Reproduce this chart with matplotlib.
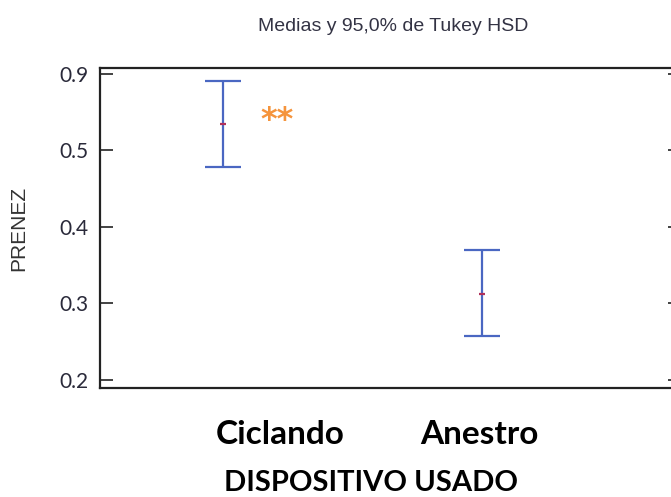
import matplotlib.pyplot as plt
import numpy as np

# medias e intervalos de Tukey HSD (95%)
categorias = ["Ciclando", "Anestro"]
medias = [0.5346, 0.3124]
limite_inf = [0.4784, 0.2575]
limite_sup = [0.5910, 0.3700]

y_ticks = [0.2, 0.3, 0.4, 0.5, 0.6]
y_labels = ["0.2", "0.3", "0.4", "0.5", "0.9"]

azul = "#4a67c2"
rojo = "#b0305a"

fig = plt.figure(figsize=(6.71, 4.97), dpi=100)
ax = fig.add_axes([0.149, 0.2193, 0.8525, 0.6439])

x = np.arange(len(categorias))
medias = np.array(medias)
err = [medias - np.array(limite_inf), np.array(limite_sup) - medias]

ax.errorbar(x, medias, yerr=err, fmt="none", ecolor=azul, elinewidth=1.6,
            capsize=13, capthick=1.6)
# marca de la media
ax.plot(x, medias, linestyle="none", marker="_", markersize=5,
        markeredgewidth=1.6, color=rojo)

ax.set_xlim(-0.475, 1.733)
ax.set_ylim(0.1895, 0.6078)

ax.set_yticks(y_ticks)
ax.set_yticklabels(y_labels, family="Lato", fontsize=15, color="#2a2a3a")
ax.tick_params(axis="y", direction="in", length=9, width=1.2, color="#222222",
               pad=8, right=True)
for t in ax.yaxis.get_major_ticks():
    t.tick2line.set_markersize(3)

# etiquetas de categoria desplazadas respecto a las barras
ax.set_xticks(x + np.array([0.22, -0.01]))
ax.set_xticklabels(categorias, family="Lato", fontweight="bold", fontsize=24)
ax.tick_params(axis="x", length=0, pad=23)

for s in ax.spines.values():
    s.set_linewidth(1.6)
    s.set_color("#222222")

ax.set_ylabel("PRENEZ", family="Liberation Sans", fontsize=15, color="#333333",
              labelpad=23)
ax.set_xlabel("DISPOSITIVO USADO", family="Lato", fontweight="bold", fontsize=21)
ax.xaxis.set_label_coords(0.473, -0.257)
fig.text(0.586, 0.946, "Medias y 95,0% de Tukey HSD", family="Liberation Sans",
         fontsize=14, color="#333344", ha="center", va="center")

ax.text(0.21, 0.539, "**", color="#f5943c", fontsize=23, fontweight="bold",
        ha="center", va="center")

fig.savefig("out.png", dpi=100)
